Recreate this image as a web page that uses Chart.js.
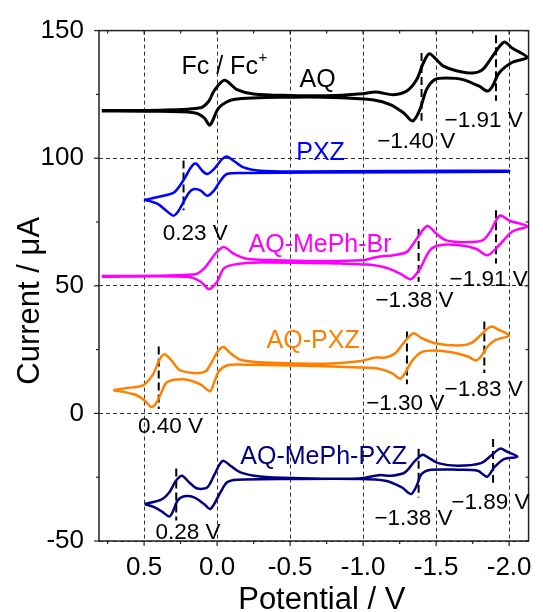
<!DOCTYPE html>
<html>
<head>
<meta charset="utf-8">
<script src="https://cdn.jsdelivr.net/npm/chart.js@4.4.1/dist/chart.umd.min.js"></script>
<style>
    html, body { margin: 0; padding: 0; background: #fff; }
    #cvWrap { width: 543px; height: 612px; }
</style>
</head>
<body>
<div id="cvWrap"><canvas id="cvChart" width="543" height="612"></canvas></div>
<script>
// Cyclic voltammograms (potential in V, current in µA), each loop closed
const aqPotential = [0.79, 0.395, 0.112, 0.056, 0.022, -0.05, -0.136, -0.249, -0.497, -0.757, -0.994, -1.084, -1.209, -1.299, -1.367, -1.412, -1.453, -1.502, -1.547, -1.638, -1.751, -1.818, -1.886, -1.965, -2.022, -2.123,
    -2.022, -1.931, -1.886, -1.852, -1.795, -1.683, -1.57, -1.491, -1.434, -1.389, -1.339, -1.276, -1.186, -1.073, -0.847, -0.52, -0.113, -0.012, 0.049, 0.09, 0.158, 0.463, 0.79];
const aqCurrent = [118.7, 118.8, 119.8, 122.4, 126.3, 130.5, 126.9, 125.2, 124.6, 124.5, 125.3, 125.9, 124.9, 126.3, 130.8, 137.3, 140.9, 138.6, 136.2, 134.3, 133.4, 134.7, 139.9, 145.5, 143.1, 139.5,
    137.6, 133.4, 128.2, 126.3, 128.2, 130.8, 131.4, 130.8, 126.9, 119.1, 114.6, 117.8, 121.0, 122.8, 123.7, 123.9, 123.0, 119.8, 113.0, 115.9, 117.8, 118.4, 118.5];

const pxzPotential = [0.501, 0.383, 0.293, 0.226, 0.18, 0.146, 0.102, 0.068, 0.022, -0.034, -0.068, -0.113, -0.181, -0.294, -0.52, -1.231, -1.999,
    -1.999, -0.678, -0.181, -0.068, -0.023, 0.022, 0.068, 0.112, 0.158, 0.192, 0.237, 0.271, 0.3, 0.35, 0.407, 0.501];
const pxzCurrent = [83.6, 85.1, 86.7, 91.8, 96.4, 97.9, 95.1, 93.8, 95.7, 99.6, 100.7, 99.0, 96.4, 95.1, 94.8, 95.0, 95.1,
    94.7, 94.4, 94.2, 93.8, 91.2, 87.3, 85.3, 87.3, 87.9, 86.6, 82.1, 78.8, 77.5, 79.5, 82.1, 83.8];

const brPotential = [0.79, 0.158, 0.09, 0.011, -0.045, -0.113, -0.203, -0.407, -0.689, -0.994, -1.096, -1.209, -1.299, -1.367, -1.439, -1.502, -1.57, -1.705, -1.818, -1.868, -1.936, -2.003, -2.123,
    -2.022, -1.931, -1.852, -1.773, -1.66, -1.524, -1.457, -1.389, -1.326, -1.253, -1.163, -1.028, -0.847, -0.294, -0.113, -0.045, 0.0, 0.056, 0.112, 0.203, 0.79];
const brCurrent = [53.8, 54.4, 56.7, 62.6, 65.2, 62.6, 60.6, 60.0, 59.7, 60.0, 61.3, 62.0, 63.3, 68.4, 73.4, 70.4, 67.8, 67.1, 67.8, 71.0, 77.5, 75.5, 73.3,
    71.3, 65.9, 62.0, 64.5, 65.9, 65.9, 63.9, 56.7, 52.6, 54.8, 57.0, 58.3, 58.7, 59.1, 58.3, 56.7, 51.6, 48.7, 51.6, 53.5, 53.5];

const aqPxzPotential = [0.711, 0.61, 0.508, 0.44, 0.395, 0.361, 0.316, 0.259, 0.158, 0.079, 0.034, -0.012, -0.045, -0.091, -0.159, -0.294, -0.52, -0.745, -0.972, -1.084, -1.152, -1.22, -1.276, -1.344, -1.4, -1.491, -1.649, -1.739, -1.807, -1.875, -1.931, -1.999,
    -1.909, -1.852, -1.807, -1.773, -1.717, -1.604, -1.491, -1.4, -1.333, -1.287, -1.253, -1.197, -1.107, -0.972, -0.52, -0.181, -0.068, -0.012, 0.022, 0.049, 0.112, 0.203, 0.293, 0.35, 0.383, 0.417, 0.451, 0.497, 0.564, 0.711];
const aqPxzCurrent = [9.1, 10.0, 11.0, 15.2, 21.0, 23.2, 21.0, 17.1, 15.8, 16.5, 20.4, 24.9, 26.0, 23.6, 21.0, 20.0, 19.6, 19.5, 20.4, 21.9, 21.9, 23.6, 27.5, 31.4, 29.5, 27.5, 26.6, 27.5, 30.8, 34.0, 32.7, 30.5,
    28.8, 26.2, 22.3, 20.7, 22.3, 24.0, 24.6, 24.0, 20.4, 15.8, 13.6, 15.8, 17.5, 18.0, 18.8, 19.1, 18.8, 16.5, 11.9, 8.7, 11.3, 13.2, 13.2, 11.9, 8.0, 4.1, 2.5, 5.1, 7.4, 9.1];

const aqMePxzPotential = [0.497, 0.383, 0.327, 0.282, 0.241, 0.192, 0.136, 0.068, 0.022, -0.018, -0.045, -0.091, -0.159, -0.294, -0.52, -0.972, -1.107, -1.197, -1.287, -1.355, -1.407, -1.446, -1.514, -1.649, -1.807, -1.875, -1.938, -1.988, -2.056,
    -1.965, -1.897, -1.848, -1.785, -1.649, -1.468, -1.4, -1.367, -1.328, -1.265, -1.152, -0.972, -0.52, -0.136, -0.068, -0.023, 0.045, 0.09, 0.158, 0.226, 0.271, 0.305, 0.327, 0.373, 0.428, 0.497];
const aqMePxzCurrent = [-35.5, -33.8, -30.9, -26.4, -24.4, -27.0, -29.4, -29.0, -24.4, -19.9, -18.6, -20.5, -23.1, -24.7, -25.3, -25.5, -24.2, -24.4, -23.1, -18.6, -16.2, -17.3, -19.5, -20.5, -19.5, -16.6, -13.8, -15.1, -17.0,
    -17.9, -21.2, -24.8, -22.5, -22.1, -22.1, -23.8, -28.3, -31.6, -29.0, -26.4, -25.7, -25.7, -26.0, -27.0, -30.9, -37.4, -35.5, -32.9, -32.5, -34.2, -38.7, -40.4, -38.7, -36.8, -35.5];

const seriesNames = ['AQ', 'PXZ', 'AQ-MePh-Br', 'AQ-PXZ', 'AQ-MePh-PXZ'];

// Half-wave potentials (V) and the current span of each marker line (µA)
const halfWaveValues = [-1.40, -1.91, 0.23, -1.38, -1.91, 0.40, -1.30, -1.83, 0.28, -1.38, -1.89];
const halfWaveTop = [141.2, 148.2, 99.1, 72.3, 79.6, 26.2, 32.1, 36.0, -21.6, -13.9, -10.0];
const halfWaveBottom = [114.7, 122.5, 79.6, 51.6, 58.7, 1.7, 11.4, 15.8, -42.0, -33.0, -27.2];

// Axis ticks
const xMajorTicks = [0.5, 0.0, -0.5, -1.0, -1.5, -2.0];
const xMinorTicks = [0.75, 0.25, -0.25, -0.75, -1.25, -1.75];
const yMajorTicks = [-50, 0, 50, 100, 150];
const yMinorTicks = [-25, 25, 75, 125];

// Styling and text placement
const seriesColors = ['#000000', '#0000ff', '#ff00ff', '#ff8000', '#000080'];
const seriesWidths = [3, 2.5, 2.5, 2.5, 2.5];
const nameAnchors = [[-0.565, 127.9], [-0.542, 99.4], [-0.215, 63.2], [-0.339, 25.6], [-0.159, -19.9]];
const halfWaveAnchors = [[-1.096, 103.9], [-1.558, 112.2], [0.373, 67.8], [-1.084, 41.5], [-1.592, 49.9],
    [0.542, -7.6], [-1.021, 1.3], [-1.558, 6.7], [0.422, -49.1], [-1.077, -43.9], [-1.604, -37.4]];
const fcAnchor = [0.244, 133.1];

const FONT = "'Liberation Sans', Arial, sans-serif";

function toPoints(xs, ys) {
    return xs.map((v, i) => ({ x: v, y: ys[i] }));
}

function formatVolt(v) {
    const s = Math.abs(v).toFixed(2) + ' V';
    return v < 0 ? '\u2212' + s : s;
}

const curveSets = [
    [aqPotential, aqCurrent],
    [pxzPotential, pxzCurrent],
    [brPotential, brCurrent],
    [aqPxzPotential, aqPxzCurrent],
    [aqMePxzPotential, aqMePxzCurrent]
];

const datasets = curveSets.map(([xs, ys], i) => ({
    label: seriesNames[i],
    data: toPoints(xs, ys),
    showLine: true,
    borderColor: seriesColors[i],
    borderWidth: seriesWidths[i],
    pointRadius: 0,
    tension: 0.3,
    fill: false
}));

halfWaveValues.forEach((v, i) => {
    datasets.push({
        label: 'E1/2 ' + i,
        data: [{ x: v, y: halfWaveTop[i] }, { x: v, y: halfWaveBottom[i] }],
        showLine: true,
        borderColor: '#000',
        borderWidth: 2,
        borderDash: [8, 4],
        pointRadius: 0,
        fill: false
    });
});

// frame, tick marks, text annotations and axis titles
const decorations = {
    id: 'decorations',
    afterDatasetsDraw(chart) {
        const { ctx, chartArea: a, scales: { x, y } } = chart;
        ctx.save();
        ctx.setLineDash([]);
        ctx.strokeStyle = '#222';
        ctx.lineWidth = 1.5;
        ctx.strokeRect(a.left, a.top, a.right - a.left, a.bottom - a.top);

        const seg = (x1, y1, x2, y2) => {
            ctx.beginPath();
            ctx.moveTo(x1, y1);
            ctx.lineTo(x2, y2);
            ctx.stroke();
        };
        ctx.lineWidth = 1.2;
        xMajorTicks.forEach(v => {
            const px = x.getPixelForValue(v);
            seg(px, a.bottom, px, a.bottom + 5);
            seg(px, a.top, px, a.top + 4);
        });
        xMinorTicks.forEach(v => {
            const px = x.getPixelForValue(v);
            seg(px, a.bottom, px, a.bottom + 3);
            seg(px, a.top, px, a.top + 3);
        });
        yMajorTicks.forEach(v => {
            const py = y.getPixelForValue(v);
            seg(a.left - 5, py, a.left, py);
            seg(a.right - 4, py, a.right, py);
        });
        yMinorTicks.forEach(v => {
            const py = y.getPixelForValue(v);
            seg(a.left - 3, py, a.left, py);
            seg(a.right - 3, py, a.right, py);
        });

        ctx.textAlign = 'left';
        ctx.textBaseline = 'alphabetic';

        // compound names
        ctx.font = '25px ' + FONT;
        seriesNames.forEach((name, i) => {
            ctx.fillStyle = seriesColors[i];
            ctx.fillText(name, x.getPixelForValue(nameAnchors[i][0]), y.getPixelForValue(nameAnchors[i][1]));
        });

        // ferrocene reference
        ctx.fillStyle = '#000';
        const fx = x.getPixelForValue(fcAnchor[0]);
        const fy = y.getPixelForValue(fcAnchor[1]);
        ctx.fillText('Fc / Fc', fx, fy);
        const fw = ctx.measureText('Fc / Fc').width;
        ctx.font = '15px ' + FONT;
        ctx.fillText('+', fx + fw + 0.5, fy - 11.5);

        // half-wave potential labels
        ctx.font = '22.5px ' + FONT;
        halfWaveValues.forEach((v, i) => {
            ctx.fillText(formatVolt(v), x.getPixelForValue(halfWaveAnchors[i][0]), y.getPixelForValue(halfWaveAnchors[i][1]));
        });

        // axis titles
        ctx.font = '31px ' + FONT;
        ctx.textAlign = 'center';
        ctx.fillText('Potential / V', (a.left + a.right) / 2 + 8, chart.height - 3);
        ctx.translate(38.5, (a.top + a.bottom) / 2 + 15);
        ctx.rotate(-Math.PI / 2);
        ctx.fillText('Current / \u03bcA', 0, 0);
        ctx.restore();
    }
};

const cvChart = new Chart(document.getElementById('cvChart'), {
    type: 'scatter',
    data: { datasets: datasets },
    options: {
        responsive: false,
        animation: false,
        layout: { padding: { top: 28, right: 10, left: 0, bottom: 0 } },
        plugins: {
            legend: { display: false },
            tooltip: { enabled: false }
        },
        scales: {
            x: {
                type: 'linear',
                reverse: true,
                min: -2.133,
                max: 0.809,
                afterBuildTicks: scale => { scale.ticks = xMajorTicks.map(v => ({ value: v })); },
                afterFit: scale => { scale.height = 71; },
                grid: { color: '#333', lineWidth: 1, drawTicks: false },
                border: { display: false, dash: [4, 3] },
                ticks: {
                    color: '#000',
                    padding: 11,
                    maxRotation: 0,
                    font: { family: FONT, size: 26 },
                    callback: v => v.toFixed(1)
                }
            },
            y: {
                type: 'linear',
                min: -50,
                max: 150,
                afterBuildTicks: scale => { scale.ticks = yMajorTicks.map(v => ({ value: v })); },
                afterFit: scale => { scale.width = 99; },
                grid: { color: '#333', lineWidth: 1, drawTicks: false },
                border: { display: false, dash: [4, 3] },
                ticks: {
                    color: '#000',
                    padding: 15,
                    font: { family: FONT, size: 26 },
                    callback: v => String(v)
                }
            }
        }
    },
    plugins: [decorations]
});
</script>
</body>
</html>
